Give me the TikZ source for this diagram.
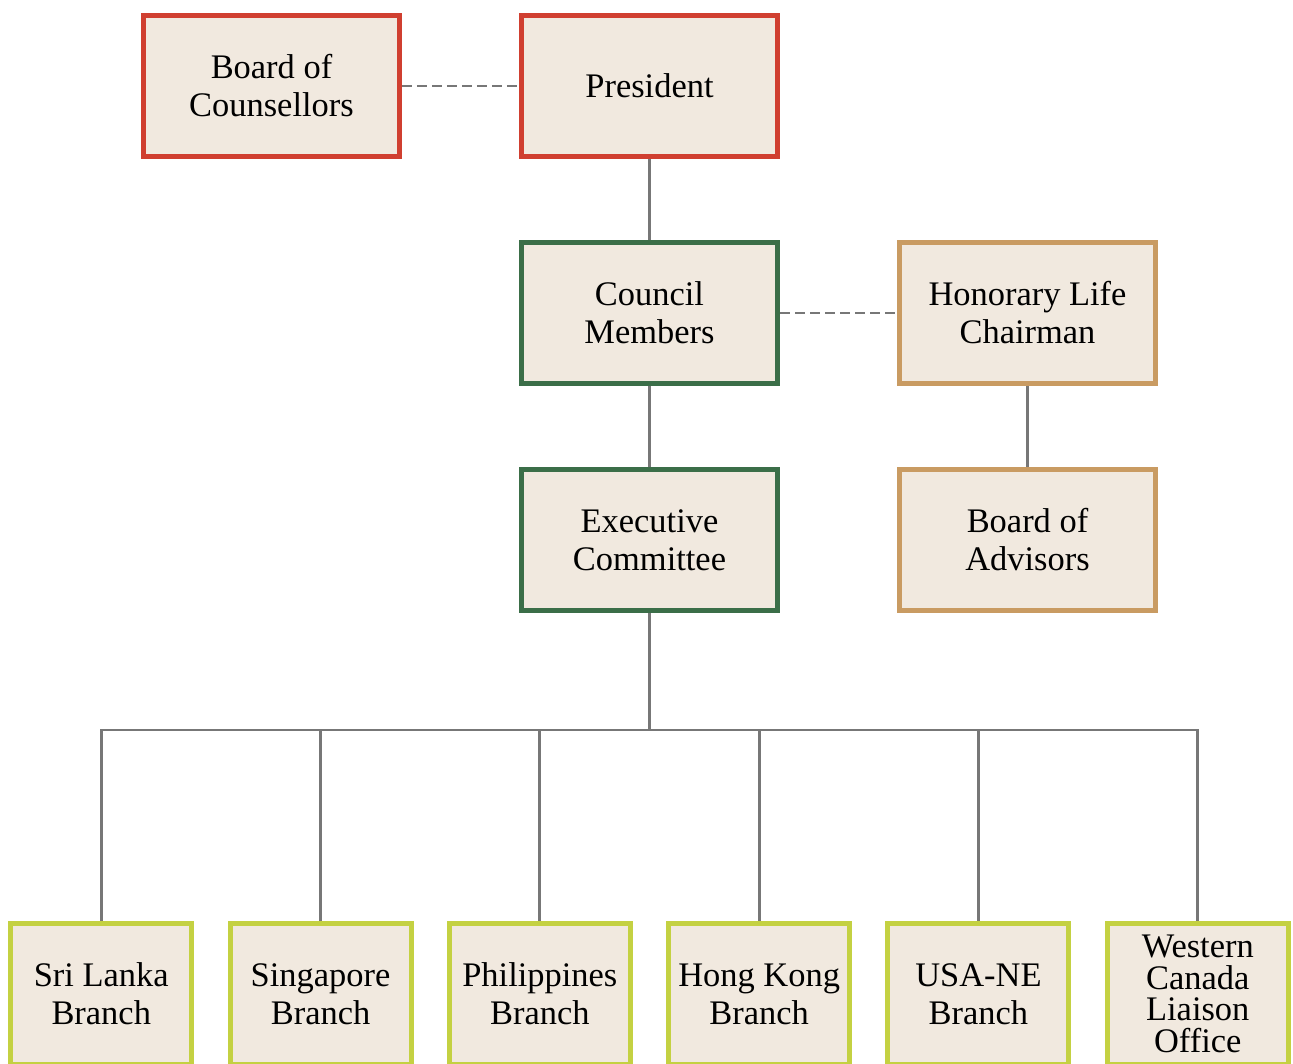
\documentclass[tikz,border=0pt]{standalone}
\usepackage{fontspec}
\setmainfont{Liberation Serif}
\usetikzlibrary{positioning}
\definecolor{boxfill}{HTML}{F1E9DF}
\definecolor{leadred}{HTML}{D03F30}
\definecolor{darkgreen}{HTML}{3B6E48}
\definecolor{advtan}{HTML}{C99B62}
\definecolor{branchlime}{HTML}{C4D142}
\definecolor{linkgray}{HTML}{777777}
\tikzset {
  % every box of the chart
  box/.style = {draw, fill=boxfill, line width=0.1cm, minimum width=5.12cm,
    minimum height=2.82cm, align=center, text=black,
    font=\fontsize{19.6}{21.6}\selectfont},
  % top of the chart
  lead/.style = {box, draw=leadred},
  % council and committee
  council/.style = {box, draw=darkgreen},
  % honorary side
  honor/.style = {box, draw=advtan},
  % branches at the bottom
  branch/.style = {box, draw=branchlime, minimum width=3.62cm},
  % connectors
  link/.style = {draw=linkgray, line width=0.055cm},
  dashlink/.style = {link, dash pattern=on 0.2cm off 0.1cm},
}

\begin{document}
\begin{tikzpicture}
        \useasboundingbox (-12.99,1.72) rectangle (12.87,-19.56);

        \node[lead] (pres) at (0,0) {President};
        \node[lead] (couns) [left=2.34cm of pres] {Board of\\Counsellors};
        \node[council] (council) [below=1.62cm of pres] {Council\\Members};
        \node[honor] (hon) [right=2.34cm of council] {Honorary Life\\Chairman};
        \node[council] (exec) [below=1.62cm of council] {Executive\\Committee};
        \node[honor] (adv) [below=1.62cm of hon] {Board of\\Advisors};

        \node[branch] (phil) [below left=6.16cm and 0.333cm of exec.south] {Philippines\\Branch};
        \node[branch] (sing) [left=0.666cm of phil] {Singapore\\Branch};
        \node[branch] (sri) [left=0.666cm of sing] {Sri Lanka\\Branch};
        \node[branch] (hk) [below right=6.16cm and 0.333cm of exec.south] {Hong Kong\\Branch};
        \node[branch] (usa) [right=0.666cm of hk] {USA-NE\\Branch};
        \node[branch, font=\fontsize{19.6}{18}\selectfont] (wc) [right=0.666cm of usa] {Western\\Canada\\Liaison\\Office};

        \draw[dashlink] (couns) -- (pres);
        \draw[dashlink] (council) -- (hon);
        \draw[link] (pres) -- (council);
        \draw[link] (council) -- (exec);
        \draw[link] (hon) -- (adv);

        \coordinate[below=2.34cm of exec.south] (bus);
        \draw[link] (exec) -- (bus);
        \draw[link] (bus) -| (sri);
        \draw[link] (bus) -| (sing);
        \draw[link] (bus) -| (phil);
        \draw[link] (bus) -| (hk);
        \draw[link] (bus) -| (usa);
        \draw[link] (bus) -| (wc);
      \end{tikzpicture}
\end{document}
